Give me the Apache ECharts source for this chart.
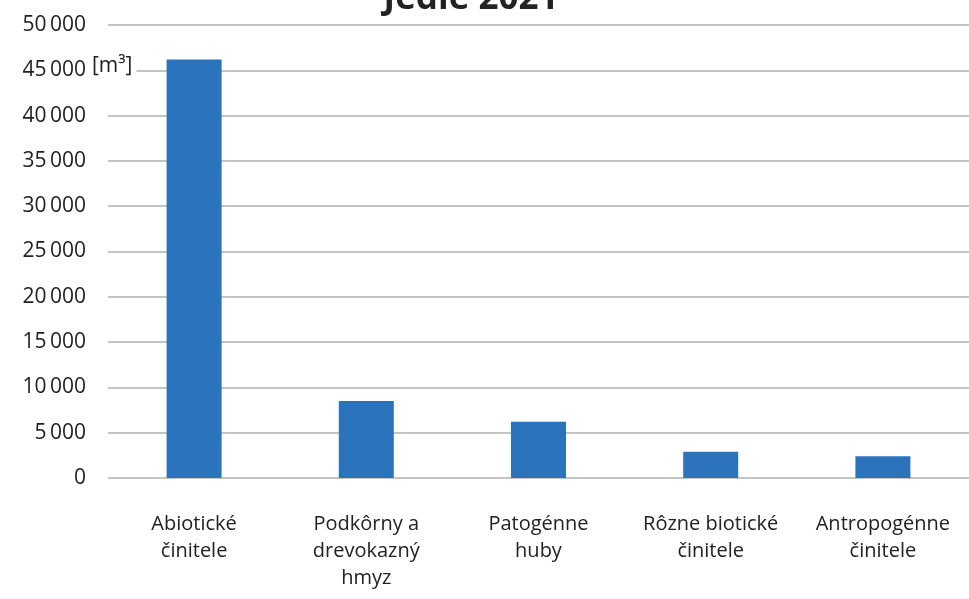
<!DOCTYPE html>
<html><head><meta charset="utf-8">
<script src="https://cdn.jsdelivr.net/npm/echarts@6/dist/echarts.min.js"></script>
<style>html,body{margin:0;padding:0;background:#fff}#c{width:969px;height:599px}</style>
</head><body><div id="c"></div>
<script>
const categories = ["Abiotické\nčinitele", "Podkôrny a\ndrevokazný\nhmyz", "Patogénne\nhuby", "Rôzne biotické\nčinitele", "Antropogénne\nčinitele"];
const values = [46200, 8500, 6200, 2900, 2400];
const titleText = "Jedle 2021";
const unitText = "[m³]";

const chart = echarts.init(document.getElementById('c'));
const font = "'Open Sans', 'Liberation Sans', sans-serif";
chart.setOption({
  animation: false,
  graphic: [
    { type: 'text', x: 471, y: 17, z: 10,
      style: { text: titleText, font: "bold 35px 'Open Sans', sans-serif", fill: '#222',
        textAlign: 'center', textVerticalAlign: 'bottom' } },
    { type: 'text', left: 90, top: 56, z: 10,
      style: { text: unitText, font: "21px 'Open Sans', sans-serif", fill: '#222',
        backgroundColor: '#fff', padding: [0, 4, 0, 2] } }
  ],
  grid: { left: 108, right: -4, top: 25, bottom: 121 },
  xAxis: { type: 'category', data: categories,
    axisLine: { show: false }, axisTick: { show: false },
    axisLabel: { fontFamily: font, fontSize: 20, color: '#222', lineHeight: 27, margin: 33, interval: 0 } },
  yAxis: { type: 'value', min: 0, max: 50000, interval: 5000,
    axisLine: { show: false }, axisTick: { show: false },
    splitLine: { lineStyle: { color: '#c4c4c4', width: 2 } },
    axisLabel: { fontFamily: font, fontSize: 21, color: '#222', margin: 22,
      formatter: v => v === 0 ? '0' : String(v).replace(/\B(?=(\d{3})+(?!\d))/g, '\u2009') } },
  series: [{ type: 'bar', data: values, barWidth: 55,
    itemStyle: { color: '#2b73bb' } }]
});
</script></body></html>
